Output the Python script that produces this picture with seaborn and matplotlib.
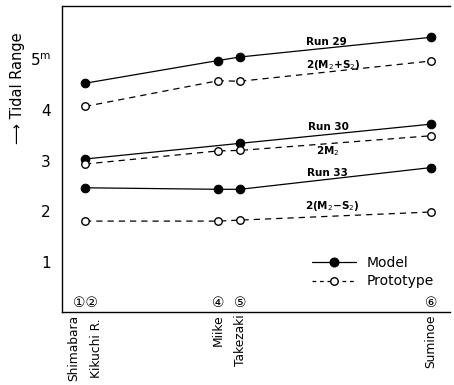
import numpy as np
import pandas as pd
import matplotlib
matplotlib.use("Agg")
import matplotlib.pyplot as plt
from matplotlib.lines import Line2D
import seaborn as sns

# ---- data ----
stations = ["Shimabara\nKikuchi R.", "Miike", "Takezaki", "Suminoe"]
station_x = [0.0, 13.3, 15.5, 34.6]          # along-coast position (arbitrary units)
station_nums = ["①②", "④", "⑤", "⑥"]

run29 = [4.53, 4.98, 5.05, 5.44]
run30 = [3.03, np.nan, 3.34, 3.72]
run33 = [2.46, 2.43, 2.43, 2.86]
proto_m2s2p = [4.07, 4.58, 4.57, 4.97]
proto_m2 = [2.93, 3.19, 3.20, 3.49]
proto_m2s2m = [1.80, 1.80, 1.82, 1.98]

series_names = ["Run 29", "Run 30", "Run 33",
                "2(M$_2$+S$_2$)", "2M$_2$", "2(M$_2$−S$_2$)"]
series_kind = ["Model", "Model", "Model", "Prototype", "Prototype", "Prototype"]
series_vals = [run29, run30, run33, proto_m2s2p, proto_m2, proto_m2s2m]

rows = []
for name, kind, vals in zip(series_names, series_kind, series_vals):
    for x, v in zip(station_x, vals):
        if not np.isnan(v):
            rows.append({"x": x, "y": v, "series": name, "kind": kind})
df = pd.DataFrame(rows)

sns.set_style("white")
plt.rcParams["font.family"] = ["DejaVu Sans", "Noto Sans CJK JP"]
plt.rcParams["text.color"] = "black"
plt.rcParams["xtick.color"] = "black"
plt.rcParams["ytick.color"] = "black"
plt.rcParams["axes.labelcolor"] = "black"

fig = plt.figure(figsize=(4.54, 3.85), dpi=100)
ax = fig.add_axes([62/454, 1 - 312/385, (450 - 62)/454, (312 - 6)/385])

for name in series_names:
    sub = df[df["series"] == name]
    kind = sub["kind"].iloc[0]
    if kind == "Model":
        sns.lineplot(data=sub, x="x", y="y", ax=ax, color="black", lw=0.9,
                     marker="o", markersize=6.2, markerfacecolor="black",
                     markeredgecolor="black", estimator=None, sort=True)
    else:
        sns.lineplot(data=sub, x="x", y="y", ax=ax, color="black", lw=0.9,
                     linestyle=(0, (5, 4)), marker="o", markersize=5.4,
                     markerfacecolor="white", markeredgecolor="black",
                     markeredgewidth=1.0, estimator=None, sort=True)

# line labels
label_pos = {
    "Run 29": (24.1, 5.35),
    "2(M$_2$+S$_2$)": (24.8, 4.89),
    "Run 30": (24.3, 3.66),
    "2M$_2$": (24.3, 3.19),
    "Run 33": (24.2, 2.75),
    "2(M$_2$−S$_2$)": (24.7, 2.10),
}
for name, (lx, ly) in label_pos.items():
    ax.text(lx, ly, name, fontsize=7.5, fontweight="bold", ha="center", va="center")

# station numbers
for x, n in zip(station_x, station_nums):
    ax.text(x, 0.03, n, fontsize=10, ha="center", va="bottom",
            family=["DejaVu Sans", "Noto Sans CJK JP"])

ax.set_xlim(-2.3, 36.5)
ax.set_ylim(0, 6.06)
ax.set_yticks([1, 2, 3, 4, 5])
ax.set_yticklabels(["1", "2", "3", "4", r"5$^{\mathrm{m}}$"], fontsize=11)
ax.set_xticks(station_x)
ax.set_xticklabels(stations, rotation=90, fontsize=8.8, va="top", ha="center",
                   linespacing=1.9)
ax.tick_params(axis="y", direction="in", length=4, width=0.8, pad=8)
ax.tick_params(axis="x", direction="in", length=3, width=0.8, pad=2)
ax.set_xlabel("")
ax.set_ylabel("")

for s in ["left", "bottom", "top"]:
    ax.spines[s].set_visible(True)
    ax.spines[s].set_color("black")
    ax.spines[s].set_linewidth(1.0)
ax.spines["right"].set_visible(False)

fig.text(18/454, 1 - 88/385, "⟶ Tidal Range", rotation=90, fontsize=10.5,
         ha="center", va="center")

handles = [
    Line2D([0], [0], color="black", lw=0.9, marker="o", markersize=6.2,
           markerfacecolor="black", markeredgecolor="black"),
    Line2D([0], [0], color="black", lw=0.9, linestyle=(0, (3, 3)), marker="o",
           markersize=5.4, markerfacecolor="white", markeredgecolor="black"),
]
ax.legend(handles, ["Model", "Prototype"], frameon=False, fontsize=10,
          loc="upper left", bbox_to_anchor=((306 - 62)/388, 1 - (250 - 6)/306),
          handlelength=3.2, handletextpad=0.8, labelspacing=0.35,
          borderaxespad=0)

fig.savefig("out.png", dpi=100)
